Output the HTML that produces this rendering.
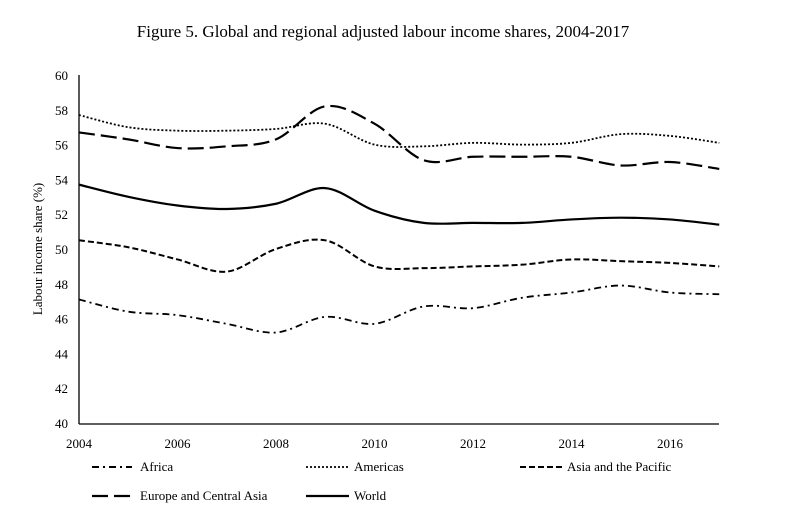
<!DOCTYPE html>
<html><head><meta charset="utf-8"><style>
body{margin:0;background:#fff}
svg{display:block;font-family:"Liberation Serif",serif}
</style></head><body>
<svg id="s" width="791" height="517" viewBox="0 0 791 517">
<text x="383" y="37" font-size="17" text-anchor="middle">Figure 5. Global and regional adjusted labour income shares, 2004-2017</text>
<text transform="translate(42,249) rotate(-90)" font-size="13" text-anchor="middle">Labour income share (%)</text>
<g id="ax" stroke="#000" stroke-width="1.3" fill="none">
<line x1="79" y1="75" x2="79" y2="424"/>
<line x1="79" y1="424" x2="719" y2="424"/>
</g>
<g id="yl" font-size="13" text-anchor="end"></g>
<g id="xl" font-size="13" text-anchor="middle"></g>
<g id="ln" fill="none" stroke="#000"></g>
<g font-size="13">
<line x1="92" y1="467" x2="132" y2="467" stroke="#000" stroke-width="2" stroke-dasharray="7,4,2,4"/>
<text x="140" y="471">Africa</text>
<line x1="306" y1="467" x2="348" y2="467" stroke="#000" stroke-width="1.8" stroke-dasharray="2,2"/>
<text x="354" y="471">Americas</text>
<line x1="520" y1="467" x2="562" y2="467" stroke="#000" stroke-width="2" stroke-dasharray="6,3"/>
<text x="567" y="471">Asia and the Pacific</text>
<line x1="92" y1="496" x2="136" y2="496" stroke="#000" stroke-width="2.2" stroke-dasharray="16,6"/>
<text x="140" y="500">Europe and Central Asia</text>
<line x1="306" y1="496" x2="349" y2="496" stroke="#000" stroke-width="2.2"/>
<text x="354" y="500">World</text>
</g>
</svg>
<script>
var NS="http://www.w3.org/2000/svg";
function X(y){return 79+49.25*(y-2004)}
function Y(v){return 75+(60-v)*17.4}
var yl=document.getElementById('yl'),xl=document.getElementById('xl'),ln=document.getElementById('ln');
for(var v=40;v<=60;v+=2){var t=document.createElementNS(NS,'text');t.setAttribute('x',68);t.setAttribute('y',Y(v)+5);t.textContent=v;yl.appendChild(t);}
for(var y=2004;y<=2016;y+=2){var t=document.createElementNS(NS,'text');t.setAttribute('x',X(y));t.setAttribute('y',448);t.textContent=y;xl.appendChild(t);}
var S=[
[[47.1,46.4,46.2,45.7,45.2,46.1,45.7,46.7,46.6,47.2,47.5,47.9,47.5,47.4],"7,4,2,4",1.8],
[[57.7,57.0,56.8,56.8,56.9,57.2,56.0,55.9,56.1,56.0,56.1,56.6,56.5,56.1],"2,2",1.8],
[[50.5,50.1,49.4,48.7,50.0,50.5,49.0,48.9,49.0,49.1,49.4,49.3,49.2,49.0],"6,3",2],
[[56.7,56.3,55.8,55.9,56.3,58.2,57.2,55.1,55.3,55.3,55.3,54.8,55.0,54.6],"16,6",2.2],
[[53.7,53.0,52.5,52.3,52.6,53.5,52.2,51.5,51.5,51.5,51.7,51.8,51.7,51.4],"",2.2]];
S.forEach(function(s){
 var p=s[0].map(function(v,i){return [X(2004+i),Y(v)]});
 var d="M"+p[0][0]+","+p[0][1];
 for(var i=0;i<p.length-1;i++){
  var p0=p[Math.max(i-1,0)],p1=p[i],p2=p[i+1],p3=p[Math.min(i+2,p.length-1)];
  var c1=[p1[0]+(p2[0]-p0[0])/6,p1[1]+(p2[1]-p0[1])/6],c2=[p2[0]-(p3[0]-p1[0])/6,p2[1]-(p3[1]-p1[1])/6];
  d+=" C"+c1+" "+c2+" "+p2;
 }
 var e=document.createElementNS(NS,'path');e.setAttribute('d',d);e.setAttribute('stroke-width',s[2]);
 if(s[1])e.setAttribute('stroke-dasharray',s[1]);ln.appendChild(e);
});
</script>
</body></html>
